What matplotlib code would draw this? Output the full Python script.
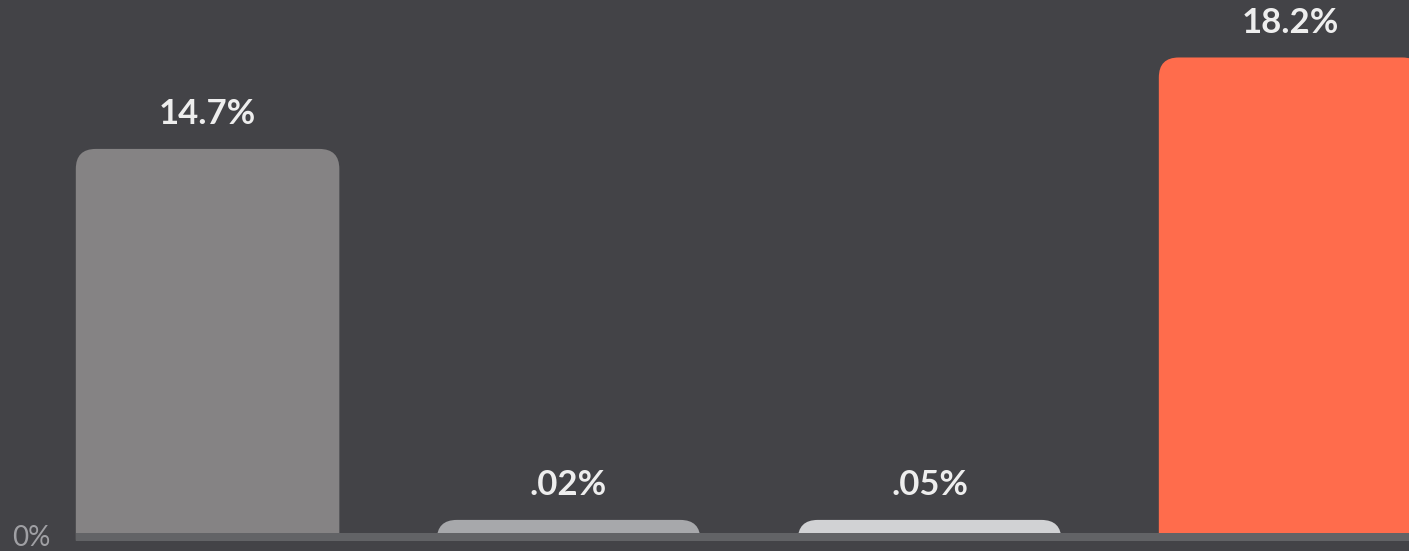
import matplotlib.pyplot as plt
from matplotlib.patches import FancyBboxPatch

# share of each group (percent)
labels = ['14.7%', '.02%', '.05%', '18.2%']
values = [14.7, 0.02, 0.05, 18.2]
colors = ['#858384', '#a7a8ab', '#d1d2d4', '#ff6c4c']

bg = '#434347'
min_h = 0.5          # smallest visible bar height, in percent units
bar_w = 0.73
radius_px = 20

fig = plt.figure(figsize=(14.09, 5.51), dpi=100, facecolor=bg)
ax = fig.add_axes([0, 0, 1, 1], facecolor=bg)
ax.set_xlim(-0.575, 3.328)
ax.set_ylim(-0.69, 20.4)
ax.axis('off')

# pixel scale of the axes, used to keep the corner rounding circular
fig_w, fig_h = fig.get_size_inches() * fig.dpi
x_px = fig_w / (ax.get_xlim()[1] - ax.get_xlim()[0])
y_px = fig_h / (ax.get_ylim()[1] - ax.get_ylim()[0])
aspect = x_px / y_px

x = list(range(len(values)))
shown = [max(v, min_h) for v in values]
bars = ax.bar(x, shown, width=bar_w, color=colors)

# swap the plain rectangles for ones with rounded tops
for b, c in zip(bars, colors):
    b.set_visible(False)
    x0, w, h = b.get_x(), b.get_width(), b.get_height()
    p = FancyBboxPatch((x0, -1.0), w, h + 1.0,
                       boxstyle='round,pad=0,rounding_size=%f' % (radius_px / x_px),
                       mutation_aspect=aspect, fc=c, ec='none', zorder=2)
    ax.add_patch(p)

# hide the bottom of the bars and draw the base strip
strip = 8 / y_px
ax.axhspan(-5, -strip, color=bg, zorder=3)
ax.fill_between([x[0] - bar_w / 2, 10], -strip, 0, color='#626366', lw=0, zorder=4)

for xi, h, lab in zip(x, shown, labels):
    ax.annotate(lab, (xi, h), xytext=(0, 25), textcoords='offset points',
                ha='center', va='center', fontsize=25, fontweight='bold',
                family='Lato', color='#eeeeee', zorder=5)

ax.text(12 / fig_w, (551 - 538) / fig_h, '0%', transform=ax.transAxes,
        ha='left', va='center', fontsize=20, family='Lato', color='#a0a0a4')

fig.savefig('out.png', dpi=100, facecolor=bg)
